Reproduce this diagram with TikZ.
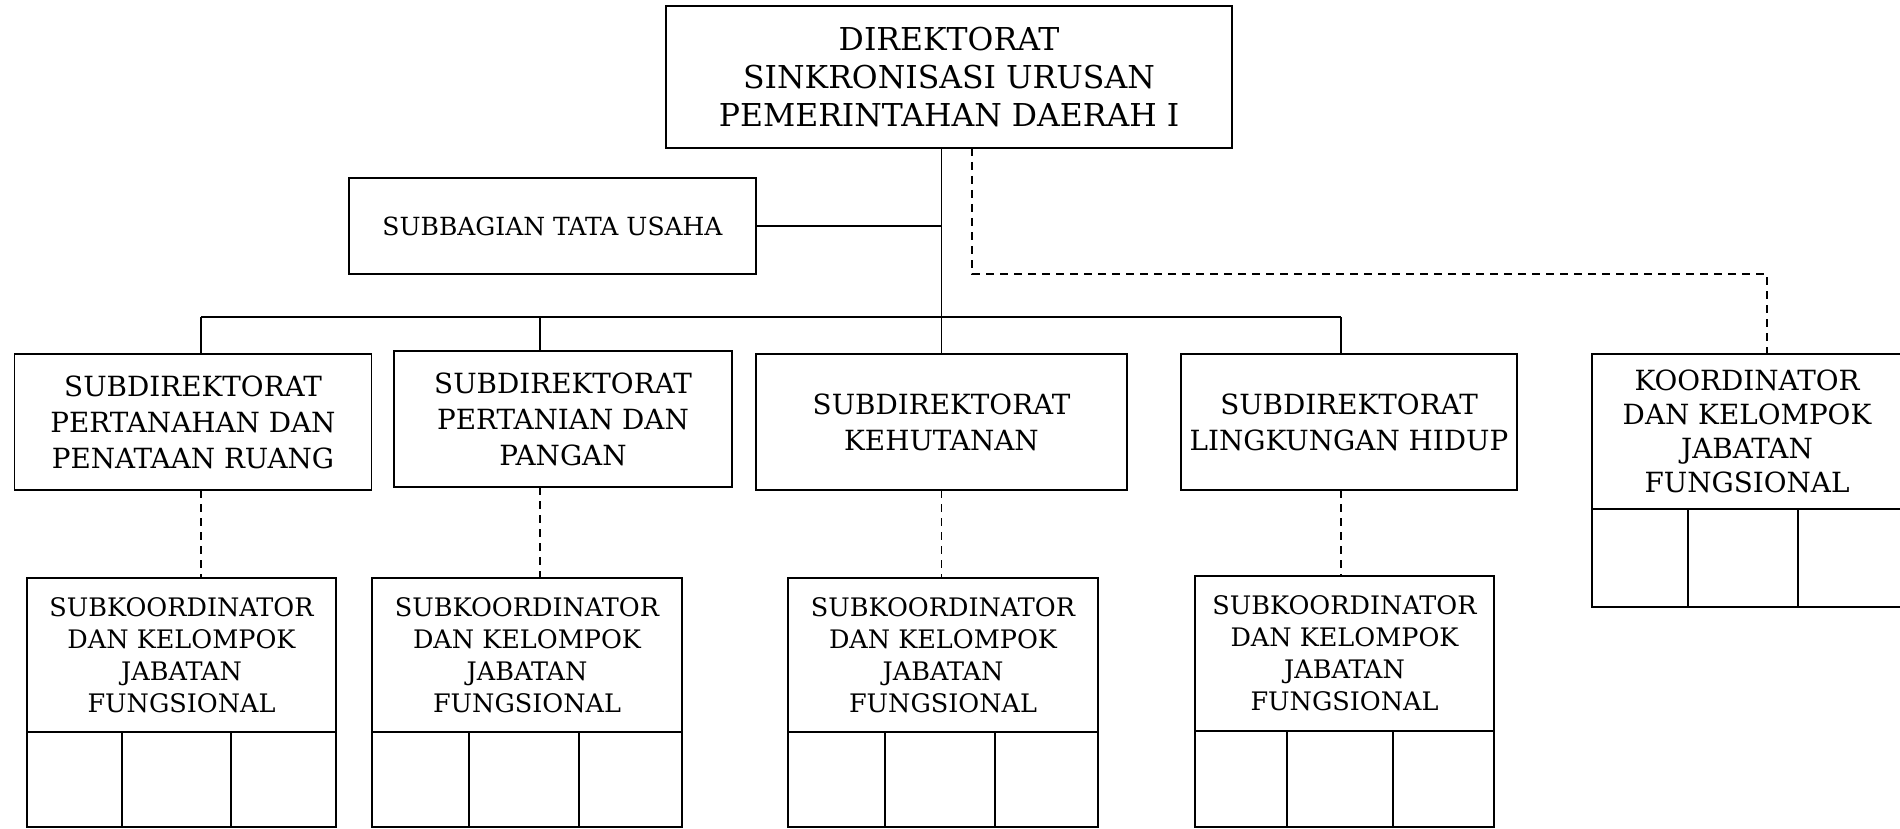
\documentclass[tikz,border=0pt]{standalone}
\usepackage{fontspec}
\setmainfont{DejaVu Serif}

\begin{document}
\begin{tikzpicture}[x=1pt,y=-1pt,
	box/.style={draw, line width=1.8pt, align=center, inner sep=0pt, outer sep=0pt},
	unit/.style={box, font=\fontsize{27.8}{36}\selectfont},
	group/.style={box, font=\fontsize{25.5}{32}\selectfont},
	link/.style={line width=1.3pt},
	dashlink/.style={line width=1.3pt, dash pattern=on 8pt off 6pt}]
	\useasboundingbox (0,0) rectangle (1900,829);
	\node[box, minimum width=566pt, minimum height=142pt, font=\fontsize{31.5}{38}\selectfont] (dir) at (949,77) {DIREKTORAT\\SINKRONISASI URUSAN\\PEMERINTAHAN DAERAH I};
	\node[box, minimum width=407pt, minimum height=96pt, font=\fontsize{25}{30}\selectfont] (tu) at (552.5,226) {SUBBAGIAN TATA USAHA};
	\foreach \n/\cx/\cy/\w/\t in {1/193/422/357/{SUBDIREKTORAT\\PERTANAHAN DAN\\PENATAAN RUANG}, 2/563/419/338/{SUBDIREKTORAT\\PERTANIAN DAN\\PANGAN}, 3/941.5/422/371/{SUBDIREKTORAT\\KEHUTANAN}, 4/1349/422/336/{SUBDIREKTORAT\\LINGKUNGAN HIDUP}} {\node[unit, minimum width=\w pt, minimum height=136pt] (sd\n) at (\cx,\cy) {\t};}
	\node[unit, anchor=north west, minimum width=310pt, minimum height=155pt, font=\fontsize{27.8}{34}\selectfont] (ko) at (1592,354) {KOORDINATOR\\DAN KELOMPOK\\JABATAN\\FUNGSIONAL};
	\draw[box] (ko.south west) rectangle ++(310,98);
	\foreach \a in {1688,1798} {\draw[box] (\a,509) -- (\a,607);}
	% trunk, staff and bus
	\coordinate (bus) at (941.5,317);
	\draw[link] (dir.south -| bus) -- (sd3.north -| bus);
	\draw[link] (tu.east) -- (tu.east -| bus);
	\foreach \n/\d/\L/\T/\w/\h/\a/\b in {1/201/27/578/309/154/122/231, 2/540/372/578/310/154/469/579, 3/941.5/788/578/310/154/885/995, 4/1341/1195/576/299/155/1287/1393} {
		\coordinate (d\n) at (\d,317);
		\draw[link] (d\n) -- (d\n |- sd\n.north);
		\node[group, anchor=north west, minimum width=\w pt, minimum height=\h pt] (sk\n) at (\L,\T) {SUBKOORDINATOR\\DAN KELOMPOK\\JABATAN\\FUNGSIONAL};
		\draw[box] (sk\n.south west) rectangle (\L+\w,827);
		\draw[box] (sk\n.south -| \a,0) -- (\a,827);
		\draw[box] (sk\n.south -| \b,0) -- (\b,827);
		\draw[dashlink] (d\n |- sd\n.south) -- (d\n |- sk\n.north);
	}
	\draw[link] (d1) -- (d4);
	% line to koordinator
	\coordinate (kd) at (1767,274);
	\draw[dashlink] ([xshift=23pt]dir.south) |- (kd) -- (kd |- ko.north);
\end{tikzpicture}
\end{document}
